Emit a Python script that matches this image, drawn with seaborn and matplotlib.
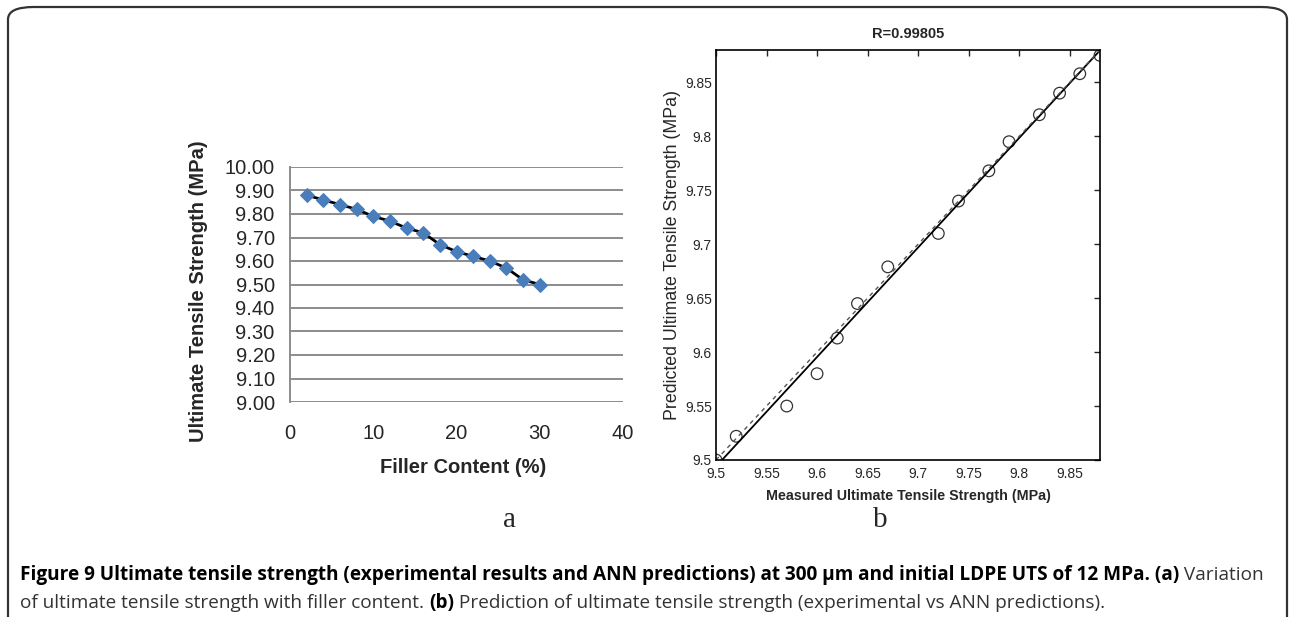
import numpy as np
import pandas as pd
import matplotlib
matplotlib.use("Agg")
import matplotlib.pyplot as plt
from matplotlib.patches import FancyBboxPatch
import seaborn as sns

# (a) filler content vs UTS
filler = [2, 4, 6, 8, 10, 12, 14, 16, 18, 20, 22, 24, 26, 28, 30]
uts = [9.88, 9.86, 9.84, 9.82, 9.79, 9.77, 9.74, 9.72, 9.67, 9.64, 9.62, 9.60, 9.57, 9.52, 9.50]

# (b) measured vs ANN predicted
measured = [9.50, 9.52, 9.57, 9.60, 9.62, 9.64, 9.67, 9.72, 9.74, 9.77, 9.79, 9.82, 9.84, 9.86, 9.88]
predicted = [9.500, 9.522, 9.550, 9.580, 9.613, 9.645, 9.679, 9.710, 9.740, 9.768, 9.795, 9.820, 9.840, 9.858, 9.875]

a_yticks = [9.0, 9.1, 9.2, 9.3, 9.4, 9.5, 9.6, 9.7, 9.8, 9.9, 10.0]
a_xticks = [0, 10, 20, 30, 40]
b_ticks = [9.5, 9.55, 9.6, 9.65, 9.7, 9.75, 9.8, 9.85]

sns.set_style("white")
plt.rcParams['font.family'] = ['Liberation Sans', 'DejaVu Sans']

W, H = 1290, 617
fig = plt.figure(figsize=(W / 100, H / 100), dpi=100)

def box(l, t, r, b):
    return [l / W, 1 - b / H, (r - l) / W, (b - t) / H]

# outer rounded frame
frame = FancyBboxPatch((8 / W, -0.05), (1287 - 8) / W, 1.05 - 7 / H,
                       boxstyle="round,pad=0,rounding_size=0.02",
                       transform=fig.transFigure, fill=False,
                       edgecolor='#333333', linewidth=1.6, clip_on=False)
fig.patches.append(frame)

# ---- panel a ----
ax1 = fig.add_axes(box(290, 167, 623, 402))
df_a = pd.DataFrame({'filler': filler, 'uts': uts})
sns.lineplot(data=df_a, x='filler', y='uts', ax=ax1, color='black', linewidth=2,
             marker='D', markersize=7, markerfacecolor='#4a7ebb',
             markeredgecolor='#4a7ebb', zorder=3)
ax1.set_xlim(0, 40)
ax1.set_ylim(9.0, 10.0)
ax1.set_xticks(a_xticks)
ax1.set_yticks(a_yticks)
ax1.set_yticklabels([f"{v:.2f}" for v in a_yticks])
ax1.yaxis.grid(True, color='#8c8c8c', linewidth=1.4)
ax1.xaxis.grid(False)
for s in ['top', 'right', 'bottom']:
    ax1.spines[s].set_visible(False)
ax1.spines['left'].set_color('#8c8c8c')
ax1.spines['left'].set_linewidth(1.4)
ax1.tick_params(axis='both', length=0, labelsize=14.5)
ax1.tick_params(axis='y', pad=11)
ax1.tick_params(axis='x', pad=16)
ax1.set_xlabel('Filler Content (%)', fontsize=14.5, fontweight='bold')
ax1.set_ylabel('Ultimate Tensile Strength (MPa)', fontsize=14.5, fontweight='bold')
ax1.xaxis.set_label_coords(0.52, -0.238)
ax1.yaxis.set_label_coords(-0.246, 0.47)

# ---- panel b ----
ax2 = fig.add_axes(box(716, 50, 1100, 460))
df_b = pd.DataFrame({'measured': measured, 'predicted': predicted})
sns.regplot(data=df_b, x='measured', y='predicted', ax=ax2, ci=None,
            scatter_kws=dict(facecolors='none', edgecolors='black', s=70, linewidths=0.9),
            line_kws=dict(color='black', linewidth=1.3))
ax2.axline((measured[0], measured[0]), slope=1, color='#555555',
           linestyle=(0, (3, 3)), linewidth=1.0)
ax2.set_xlim(9.5, 9.88)
ax2.set_ylim(9.5, 9.88)
ax2.set_xticks(b_ticks)
ax2.set_yticks(b_ticks)
ax2.set_xticklabels([f"{v:g}" for v in b_ticks])
ax2.set_yticklabels([f"{v:g}" for v in b_ticks])
ax2.tick_params(axis='both', direction='in', length=4, width=1, labelsize=10,
                top=True, right=True)
ax2.tick_params(axis='y', pad=3)
ax2.tick_params(axis='x', pad=5)
for s in ax2.spines.values():
    s.set_color('black')
    s.set_linewidth(1.2)
ax2.set_xlabel('Measured Ultimate Tensile Strength (MPa)', fontsize=10.3,
               fontweight='bold', labelpad=6)
ax2.set_ylabel('Predicted Ultimate Tensile Strength (MPa)', fontsize=12.8, labelpad=3)
ax2.set_title('R=0.99805', fontsize=10.5, fontweight='bold', pad=9)

# panel letters
fig.text(510 / W, 1 - 520 / H, 'a', family=['Liberation Serif', 'DejaVu Serif'],
         fontsize=21, ha='center', va='center')
fig.text(880 / W, 1 - 520 / H, 'b', family=['Liberation Serif', 'DejaVu Serif'],
         fontsize=21, ha='center', va='center')

# caption with mixed weights
cap_font = ['Open Sans', 'DejaVu Sans']
cap_size = 13.7
line1 = [("Figure 9 Ultimate tensile strength (experimental results and ANN predictions) "
          "at 300 \u00b5m and initial LDPE UTS of 12 MPa. (a)", 'bold', 'black'),
         (" Variation", 'normal', '#333333')]
line2 = [("of ultimate tensile strength with filler content. ", 'normal', '#333333'),
         ("(b)", 'bold', 'black'),
         (" Prediction of ultimate tensile strength (experimental vs ANN predictions).",
          'normal', '#333333')]

fig.canvas.draw()
renderer = fig.canvas.get_renderer()
for parts, ypix in [(line1, 575), (line2, 603)]:
    xpix = 20
    for txt, wt, col in parts:
        t = fig.text(xpix / W, 1 - ypix / H, txt, family=cap_font, fontsize=cap_size,
                     fontweight=wt, color=col, ha='left', va='center')
        bb = t.get_window_extent(renderer=renderer)
        xpix += bb.width

fig.savefig('out.png', dpi=100)
